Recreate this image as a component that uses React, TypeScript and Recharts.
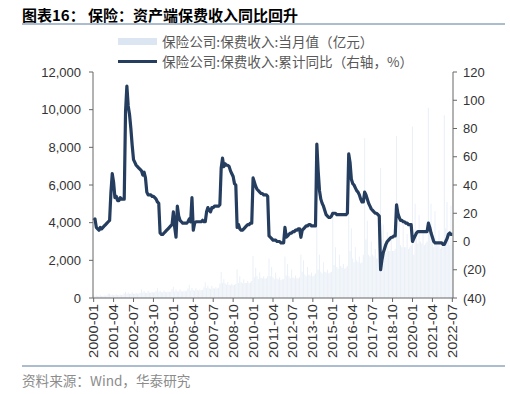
import React from 'react';
import { ComposedChart, Bar, Line, XAxis, YAxis } from 'recharts';

const years = [2000, 2001, 2002, 2003, 2004, 2005, 2006, 2007, 2008, 2009, 2010, 2011, 2012, 2013, 2014, 2015, 2016, 2017, 2018, 2019, 2020, 2021, 2022];

// 保险公司:保费收入:当月值（亿元）
const p2000 = [170, 100, 130, 110, 110, 140, 110, 110, 130, 120, 130, 230];
const p2001 = [220, 140, 190, 150, 140, 200, 160, 150, 180, 160, 170, 250];
const p2002 = [330, 220, 290, 230, 220, 300, 230, 220, 260, 230, 240, 280];
const p2003 = [450, 280, 370, 280, 270, 380, 290, 280, 320, 290, 300, 370];
const p2004 = [520, 300, 390, 310, 290, 400, 320, 310, 350, 320, 330, 480];
const p2005 = [600, 350, 450, 360, 340, 460, 360, 350, 400, 360, 380, 510];
const p2006 = [700, 400, 530, 420, 390, 520, 420, 400, 460, 410, 430, 560];
const p2007 = [830, 520, 650, 520, 480, 640, 520, 500, 570, 510, 540, 760];
const p2008 = [1380, 800, 1000, 780, 700, 850, 700, 680, 760, 680, 700, 750];
const p2009 = [1530, 800, 1150, 850, 780, 1000, 800, 790, 900, 790, 820, 900];
const p2010 = [2230, 1100, 1600, 1150, 1000, 1350, 1080, 1050, 1150, 1020, 1050, 1150];
const p2011 = [2100, 1150, 1650, 1100, 1000, 1350, 1050, 1000, 1100, 950, 1000, 1000];
const p2012 = [2200, 1200, 1800, 1150, 1050, 1500, 1100, 1050, 1200, 1050, 1050, 1100];
const p2013 = [2300, 1400, 2000, 1250, 1150, 1650, 1250, 1200, 1350, 1150, 1200, 1300];
const p2014 = [3800, 1500, 2300, 1400, 1300, 1900, 1400, 1350, 1500, 1300, 1350, 1400];
const p2015 = [4700, 1750, 2700, 1650, 1550, 2300, 1700, 1600, 1800, 1550, 1600, 1700];
const p2016 = [6900, 2500, 3700, 2100, 1900, 2700, 2000, 1900, 2200, 1850, 1900, 2300];
const p2017 = [8500, 3100, 4100, 2300, 2200, 3000, 2300, 2200, 2600, 2100, 2100, 2200];
const p2018 = [6900, 3100, 3900, 2600, 2400, 3500, 2500, 2500, 3100, 2500, 2500, 2600];
const p2019 = [8600, 3600, 4400, 2800, 2700, 4000, 2700, 2700, 3400, 2600, 2700, 2800];
const p2020 = [9100, 2300, 5000, 3200, 2900, 4400, 3000, 2900, 3600, 2800, 2900, 3000];
const p2021 = [10100, 3500, 5000, 3000, 2700, 4600, 2900, 2800, 3600, 2600, 2700, 2900];
const p2022 = [9700, 3700, 5100, 3100, 2800, 4900, 2900];

// 保险公司:保费收入:累计同比（右轴，%）
const g2000 = [15, 16, 10, 9, 8, 10, 9, 10, 11, 12, 13, 14];
const g2001 = [15, 35, 48, 42, 31, 32, 29, 29, 31, 30, 30, 30];
const g2002 = [92, 110, 96, 90, 80, 68, 58, 56, 54, 53, 52, 51];
const g2003 = [50, 47, 49, 45, 35, 33, 33, 33, 32, 32, 31, 30];
const g2004 = [28, 27, 6, 5, 5, 6, 7, 8, 9, 10, 11, 12];
const g2005 = [21, 10, 3, 25, 18, 15, 14, 13, 13, 13, 13, 14];
const g2006 = [16, 14, 31, 8, 13, 14, 14, 14, 14, 14, 15, 14];
const g2007 = [14, 21, 24, 22, 21, 24, 24, 25, 25, 25, 25, 26];
const g2008 = [52, 59, 53, 55, 54, 54, 53, 50, 48, 46, 41, 40];
const g2009 = [10, 12, 9, 8, 8, 9, 10, 11, 12, 12, 13, 13];
const g2010 = [45, 42, 39, 37, 36, 35, 34, 34, 33, 33, 33, 32];
const g2011 = [4, 3, 2, 1, 1, 1, 0, 0, 0, -1, -1, -1];
const g2012 = [10, 3, 4, 5, 6, 6, 7, 7, 8, 8, 9, 9];
const g2013 = [3, 8, 9, 10, 11, 11, 12, 12, 11, 11, 11, 11];
const g2014 = [69, 50, 36, 30, 27, 25, 22, 19, 18, 17, 17, 18];
const g2015 = [20, 20, 20, 19, 19, 19, 19, 19, 19, 19, 19, 20];
const g2016 = [62, 56, 44, 41, 40, 38, 36, 35, 33, 30, 28, 28];
const g2017 = [35, 33, 30, 27, 25, 23, 22, 21, 20, 20, 19, 18];
const g2018 = [-20, -13, -8, -5, -2, 0, 1, 2, 3, 3, 4, 4];
const g2019 = [26, 20, 17, 15, 15, 14, 14, 13, 13, 12, 12, 12];
const g2020 = [0, 2, 4, 6, 7, 7, 7, 7, 7, 7, 7, 7];
const g2021 = [13, 10, 6, 3, 0, -1, -1, -1, -1, -1, -1, -2];
const g2022 = [-2, 0, 2, 5, 6, 5, 5];

const premiumByYear = [p2000, p2001, p2002, p2003, p2004, p2005, p2006, p2007, p2008, p2009, p2010, p2011, p2012, p2013, p2014, p2015, p2016, p2017, p2018, p2019, p2020, p2021, p2022];
const growthByYear = [g2000, g2001, g2002, g2003, g2004, g2005, g2006, g2007, g2008, g2009, g2010, g2011, g2012, g2013, g2014, g2015, g2016, g2017, g2018, g2019, g2020, g2021, g2022];

const leftTicks = [0, 2000, 4000, 6000, 8000, 10000, 12000];
const rightTicks = [-40, -20, 0, 20, 40, 60, 80, 100, 120];

const data: { month: string; premium: number; growth: number }[] = [];
years.forEach((yr, k) => {
  premiumByYear[k].forEach((p, m) => {
    data.push({
      month: `${yr}-${String(m + 1).padStart(2, '0')}`,
      premium: p,
      growth: growthByYear[k][m],
    });
  });
});

const NUM_FONT = '"Liberation Sans", Arial, sans-serif';
const CJK_FONT = '"Noto Sans CJK SC", "Noto Sans", sans-serif';

const XTick = (props: any) => {
  const { x, y, payload } = props;
  return (
    <text
      x={0}
      y={0}
      transform={`translate(${x + 4.5},${y}) rotate(-90)`}
      textAnchor="end"
      fontSize={12.5}
      fill="#333"
      fontFamily={NUM_FONT}
      textLength={54}
      lengthAdjust="spacingAndGlyphs"
    >
      {payload.value}
    </text>
  );
};

export default function App() {
  return (
    <div style={{ position: 'absolute', left: 0, top: 0, width: 510, height: 394, background: '#fff' }}>
      <ComposedChart
        width={510}
        height={394}
        data={data}
        margin={{ top: 72, right: 0, bottom: 36, left: 0 }}
        barCategoryGap="10%"
      >
        <XAxis
          dataKey="month"
          interval={14}
          tick={<XTick />}
          tickSize={4}
          height={60}
          axisLine={{ stroke: '#666' }}
          tickLine={{ stroke: '#666' }}
        />
        <YAxis
          yAxisId="left"
          orientation="left"
          width={93}
          domain={[0, 12000]}
          ticks={leftTicks}
          tickFormatter={(v: number) => v.toLocaleString('en-US')}
          tick={{ fill: '#333', fontSize: 13, fontFamily: NUM_FONT }}
          tickSize={4}
          tickMargin={8}
          axisLine={{ stroke: '#666' }}
          tickLine={{ stroke: '#666' }}
        />
        <YAxis
          yAxisId="right"
          orientation="right"
          width={57}
          domain={[-40, 120]}
          ticks={rightTicks}
          tickFormatter={(v: number) => (v < 0 ? `(${-v})` : `${v}`)}
          tick={{ fill: '#333', fontSize: 13, fontFamily: NUM_FONT, textAnchor: 'start' }}
          tickSize={4}
          tickMargin={6}
          axisLine={{ stroke: '#666' }}
          tickLine={{ stroke: '#666' }}
        />
        <Bar yAxisId="left" dataKey="premium" fill="#dce6f2" fillOpacity={0.6} isAnimationActive={false} />
        <Line
          yAxisId="right"
          dataKey="growth"
          type="linear"
          stroke="#253d5e"
          strokeWidth={3.2}
          strokeLinejoin="round"
          dot={false}
          activeDot={false}
          isAnimationActive={false}
        />
      </ComposedChart>
      <svg width={510} height={394} style={{ position: 'absolute', left: 0, top: 0, pointerEvents: 'none' }}>
        <text x={22} y={14} dominantBaseline="central" fontFamily={CJK_FONT} fontWeight="bold" fontSize={15} fill="#000">
          图表16： 保险：资产端保费收入同比回升
        </text>
        <line x1={22} x2={505} y1={24} y2={24} stroke="#5b7aa0" strokeWidth={1} />
        <rect x={118} y={38} width={39} height={7} fill="#dce6f2" />
        <text x={162} y={41} dominantBaseline="central" fontFamily={CJK_FONT} fontSize={13.6} fill="#595959">
          保险公司:保费收入:当月值（亿元）
        </text>
        <line x1={118} x2={157} y1={61.5} y2={61.5} stroke="#253d5e" strokeWidth={3} />
        <text x={162} y={61} dominantBaseline="central" fontFamily={CJK_FONT} fontSize={13.6} fill="#595959">
          保险公司:保费收入:累计同比（右轴，%）
        </text>
        <line x1={22} x2={505} y1={366} y2={366} stroke="#5b7aa0" strokeWidth={1} />
        <text x={22} y={380} dominantBaseline="central" fontFamily={CJK_FONT} fontSize={13.6} fill="#8c8c8c">
          资料来源：Wind，华泰研究
        </text>
      </svg>
    </div>
  );
}
